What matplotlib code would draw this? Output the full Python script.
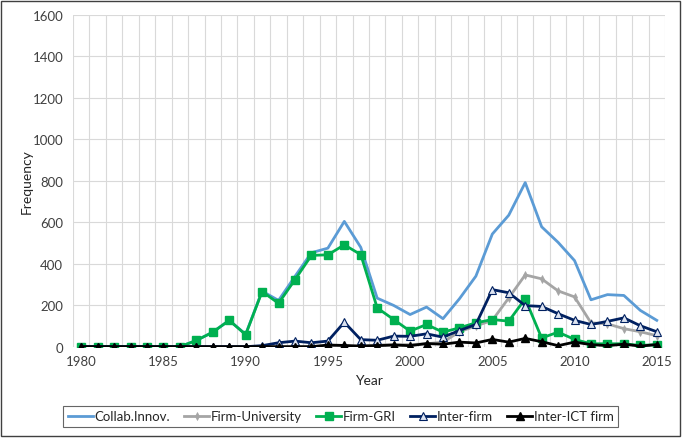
import matplotlib

matplotlib.use("Agg")
import matplotlib.pyplot as plt
from matplotlib.patches import Rectangle


years = list(range(1980, 2016))

collab_innov = [
    0, 0, 0, 0, 0, 0, 0, 30, 70, 127,
    60, 268, 223, 339, 453, 475, 604, 479, 234, 199,
    155, 191, 135, 231, 340, 543, 634, 791, 578, 503,
    415, 226, 251, 247, 175, 127,
]
firm_university = [
    0, 0, 0, 0, 0, 0, 0, 0, 0, 0,
    0, 0, 0, 0, 0, 0, 0, 3, 8, 10,
    10, 14, 22, 72, 100, 127, 235, 346, 327, 269,
    240, 115, 110, 87, 72, 53,
]
firm_gri = [
    0, 0, 0, 0, 0, 0, 0, 30, 70, 127,
    58, 266, 209, 323, 440, 443, 491, 444, 187, 131,
    75, 107, 70, 91, 115, 131, 123, 231, 42, 70,
    35, 14, 14, 14, 6, 10,
]
inter_firm = [
    0, 0, 0, 0, 0, 0, 0, 0, 0, 0,
    0, 5, 19, 27, 19, 27, 118, 34, 31, 51,
    50, 62, 46, 78, 107, 275, 260, 198, 194, 159,
    127, 107, 122, 139, 101, 72,
]
inter_ict_firm = [
    0, 0, 0, 0, 0, 0, 0, 0, 0, 0,
    0, 0, 0, 0, 0, 8, 6, 3, 5, 8,
    5, 15, 12, 22, 18, 35, 22, 40, 24, 5,
    22, 10, 5, 12, 3, 10,
]
y_ticks = [0, 200, 400, 600, 800, 1000, 1200, 1400, 1600]
x_tick_years = [1980, 1985, 1990, 1995, 2000, 2005, 2010, 2015]

plt.rcParams["font.family"] = ["Lato", "DejaVu Sans"]

fig = plt.figure(figsize=(6.84, 4.39), dpi=100)
ax = fig.add_axes([0.1067, 0.208, 0.8655, 0.756])

ax.plot(years, collab_innov, color="#5B9BD5", lw=2.0, label="Collab.Innov.", zorder=3)
ax.plot(years, firm_university, color="#A5A5A5", lw=2.0, marker="d", ms=4,
        markeredgewidth=0.5, label="Firm-University", zorder=3)
ax.plot(years, firm_gri, color="#00B050", lw=2.0, marker="s", ms=5.5,
        label="Firm-GRI", zorder=4)
ax.plot(years, inter_firm, color="#002060", lw=2.0, marker="^", ms=5.5,
        markerfacecolor="#DDE3F0", markeredgecolor="#002060", markeredgewidth=0.8,
        label="Inter-firm", zorder=5)
ax.plot(years, inter_ict_firm, color="#000000", lw=2.0, marker="^", ms=5.5,
        label="Inter-ICT firm", zorder=6)

ax.set_xlim(years[0] - 0.5, years[-1] + 0.5)
ax.set_ylim(0, 1600)
ax.set_yticks(y_ticks)
ax.set_xticks(x_tick_years)
ax.set_xticks([y - 0.5 for y in years] + [years[-1] + 0.5], minor=True)
ax.grid(True, which="minor", axis="x", color="#D9D9D9", lw=0.8, zorder=0)
ax.grid(True, which="major", axis="y", color="#D9D9D9", lw=0.8, zorder=0)
ax.tick_params(axis="both", which="both", length=0, labelsize=9.5, colors="#404040")
ax.tick_params(axis="x", pad=6)
ax.tick_params(axis="y", pad=7)
for s in ax.spines.values():
    s.set_visible(False)

ax.set_xlabel("Year", fontsize=10, color="#262626", labelpad=5)
ax.set_ylabel("Frequency", fontsize=10, color="#262626", labelpad=0)

leg = fig.legend(
    loc="center",
    bbox_to_anchor=(0.498, 0.049),
    ncol=5,
    fontsize=9.5,
    frameon=True,
    fancybox=False,
    edgecolor="#404040",
    handlelength=1.9,
    handletextpad=0.1,
    columnspacing=1.1,
    borderpad=0.35,
)
leg.get_frame().set_linewidth(0.8)
for t in leg.get_texts():
    t.set_color("#262626")

fig.patches.append(Rectangle((0.002, 0.004), 0.992, 0.992, transform=fig.transFigure,
                             fill=False, edgecolor="#404040", lw=1.0))

fig.savefig("out.png", dpi=100)
